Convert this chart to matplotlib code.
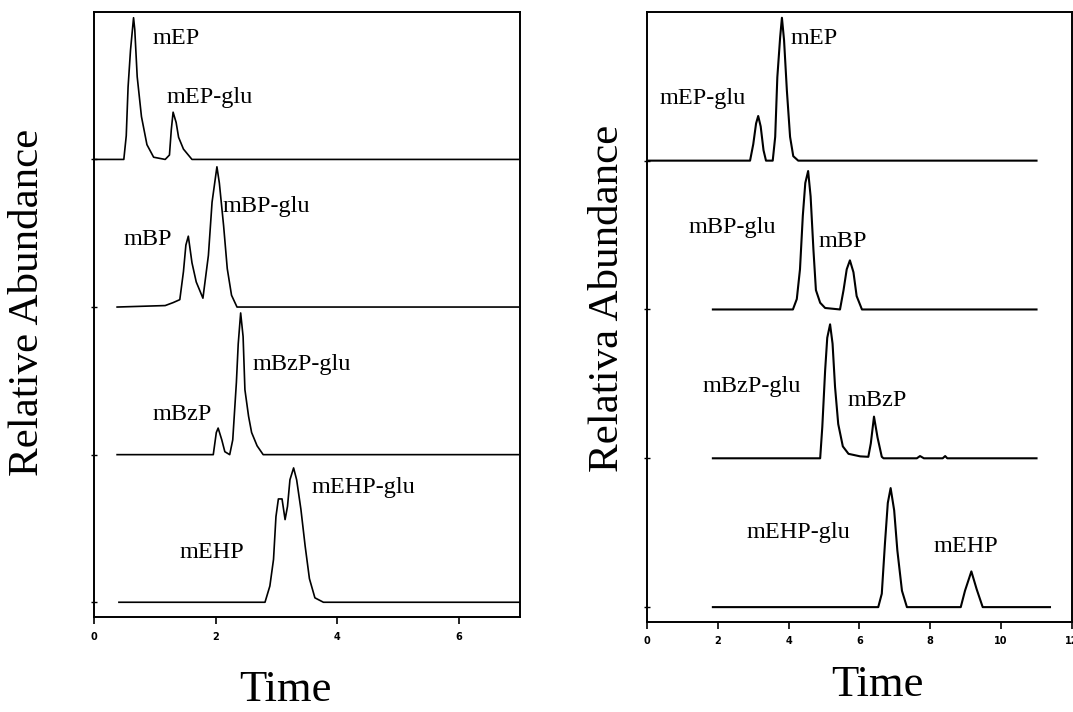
import numpy as np
import matplotlib
matplotlib.use("Agg")
import matplotlib.pyplot as plt

# ---- left panel: four stacked traces (time, relative height), bottom to top order below
left_ep_t = [0.0, 0.49, 0.53, 0.56, 0.60, 0.65, 0.67, 0.71, 0.78, 0.87, 0.98, 1.17, 1.24, 1.27,
             1.30, 1.35, 1.39, 1.47, 1.61, 6.97]
left_ep_h = [0.0, 0.0, 0.16, 0.49, 0.74, 0.96, 0.88, 0.56, 0.29, 0.10, 0.015, 0.0, 0.03, 0.20,
             0.32, 0.25, 0.15, 0.07, 0.0, 0.0]

left_bp_t = [0.38, 1.17, 1.30, 1.41, 1.47, 1.51, 1.55, 1.61, 1.68, 1.79, 1.88, 1.94, 2.02, 2.06,
             2.13, 2.19, 2.26, 2.35, 6.97]
left_bp_h = [0.0, 0.01, 0.03, 0.05, 0.24, 0.42, 0.48, 0.30, 0.17, 0.06, 0.35, 0.71, 0.95, 0.84,
             0.55, 0.26, 0.08, 0.0, 0.0]

left_bzp_t = [0.38, 1.96, 2.01, 2.04, 2.10, 2.15, 2.23, 2.28, 2.34, 2.37, 2.41, 2.45, 2.48, 2.54,
              2.59, 2.68, 2.78, 6.97]
left_bzp_h = [0.0, 0.0, 0.15, 0.18, 0.10, 0.02, 0.0, 0.10, 0.49, 0.75, 0.96, 0.80, 0.44, 0.26,
              0.15, 0.06, 0.0, 0.0]

left_ehp_t = [0.41, 2.81, 2.89, 2.95, 2.99, 3.03, 3.09, 3.14, 3.18, 3.22, 3.28, 3.33, 3.40, 3.47,
              3.54, 3.63, 3.77, 7.0]
left_ehp_h = [0.0, 0.0, 0.11, 0.29, 0.58, 0.70, 0.70, 0.56, 0.65, 0.83, 0.91, 0.83, 0.63, 0.38,
              0.16, 0.03, 0.0, 0.0]

# ---- right panel
right_ep_t = [0.03, 2.91, 3.00, 3.08, 3.14, 3.21, 3.29, 3.36, 3.55, 3.62, 3.68, 3.76, 3.81, 3.87,
              3.95, 4.04, 4.13, 4.27, 11.0]
right_ep_h = [0.0, 0.0, 0.11, 0.25, 0.30, 0.23, 0.07, 0.0, 0.0, 0.16, 0.56, 0.83, 0.96, 0.81,
              0.47, 0.16, 0.03, 0.0, 0.0]

right_bp_t = [1.86, 4.12, 4.23, 4.32, 4.40, 4.47, 4.55, 4.62, 4.70, 4.77, 4.89, 5.03, 5.45, 5.55,
              5.64, 5.73, 5.83, 5.92, 6.07, 11.0]
right_bp_h = [0.0, 0.0, 0.07, 0.27, 0.63, 0.85, 0.93, 0.76, 0.40, 0.13, 0.045, 0.01, 0.0, 0.13,
              0.27, 0.33, 0.25, 0.09, 0.0, 0.0]

right_bzp_t = [1.86, 4.89, 4.95, 5.03, 5.09, 5.17, 5.24, 5.31, 5.40, 5.53, 5.69, 6.02, 6.25, 6.32,
               6.41, 6.51, 6.63, 6.68, 7.62, 7.71, 7.82, 8.35, 8.42, 8.48, 11.0]
right_bzp_h = [0.0, 0.0, 0.21, 0.59, 0.81, 0.90, 0.77, 0.48, 0.23, 0.08, 0.03, 0.013, 0.01, 0.10,
               0.28, 0.14, 0.01, 0.0, 0.0, 0.015, 0.0, 0.0, 0.015, 0.0, 0.0]

right_ehp_t = [1.86, 6.53, 6.63, 6.72, 6.80, 6.88, 6.98, 7.07, 7.20, 7.34, 8.86, 8.98, 9.16, 9.31,
               9.48, 11.38]
right_ehp_h = [0.0, 0.0, 0.09, 0.43, 0.70, 0.80, 0.65, 0.38, 0.11, 0.0, 0.0, 0.11, 0.24, 0.12,
               0.0, 0.0]

# peak names and where they sit (time, stacked height)
left_labels = [("mEP", 0.97, 3.82), ("mEP-glu", 1.20, 3.42), ("mBP-glu", 2.12, 2.68),
               ("mBP", 0.49, 2.46), ("mBzP-glu", 2.60, 1.61), ("mBzP", 0.97, 1.27),
               ("mEHP-glu", 3.58, 0.78), ("mEHP", 1.41, 0.34)]
right_labels = [("mEP", 4.04, 3.82), ("mEP-glu", 0.34, 3.42), ("mBP-glu", 1.16, 2.55),
                ("mBP", 4.83, 2.46), ("mBzP-glu", 1.58, 1.48), ("mBzP", 5.65, 1.39),
                ("mEHP-glu", 2.80, 0.50), ("mEHP", 8.10, 0.41)]

left_traces = [(left_ehp_t, left_ehp_h), (left_bzp_t, left_bzp_h),
               (left_bp_t, left_bp_h), (left_ep_t, left_ep_h)]
right_traces = [(right_ehp_t, right_ehp_h), (right_bzp_t, right_bzp_h),
                (right_bp_t, right_bp_h), (right_ep_t, right_ep_h)]

SERIF = "Liberation Serif"

fig = plt.figure(figsize=(10.73, 7.12), dpi=100)
ax1 = fig.add_axes([0.0876, 0.1334, 0.397, 0.850])
ax2 = fig.add_axes([0.603, 0.1264, 0.396, 0.857])


def draw(ax, traces, labels, xmax, xticks, lw, pad):
    for i, (t, h) in enumerate(traces):
        ax.plot(t, np.array(h) + i, color="black", lw=lw)
    for name, x, y in labels:
        ax.text(x, y, name, family=SERIF, fontsize=17.5, ha="left", va="center")
    ax.set_xlim(0, xmax)
    ax.set_ylim(-0.1, 4.0)
    ax.set_xticks(xticks)
    ax.set_yticks([0, 1, 2, 3])
    ax.set_yticklabels([])
    ax.tick_params(axis="x", direction="out", length=5, width=1.2, pad=pad,
                   labelsize=7)
    ax.tick_params(axis="y", direction="inout", length=5, width=1.0)
    for lab in ax.get_xticklabels():
        lab.set_fontweight("bold")
    for sp in ax.spines.values():
        sp.set_linewidth(1.4)


draw(ax1, left_traces, left_labels, 7, [0, 2, 4, 6], 1.2, 6)
draw(ax2, right_traces, right_labels, 12, [0, 2, 4, 6, 8, 10, 12], 1.5, 5.4)

fig.text(0.026, 0.576, "Relative Abundance", family=SERIF, fontsize=31,
         rotation=90, ha="center", va="center")
fig.text(0.566, 0.581, "Relativa Abundance", family=SERIF, fontsize=31,
         rotation=90, ha="center", va="center")
fig.text(0.266, 0.016, "Time", family=SERIF, fontsize=32, ha="center", va="baseline")
fig.text(0.818, 0.0225, "Time", family=SERIF, fontsize=32, ha="center", va="baseline")

fig.savefig("out.png", dpi=100)
